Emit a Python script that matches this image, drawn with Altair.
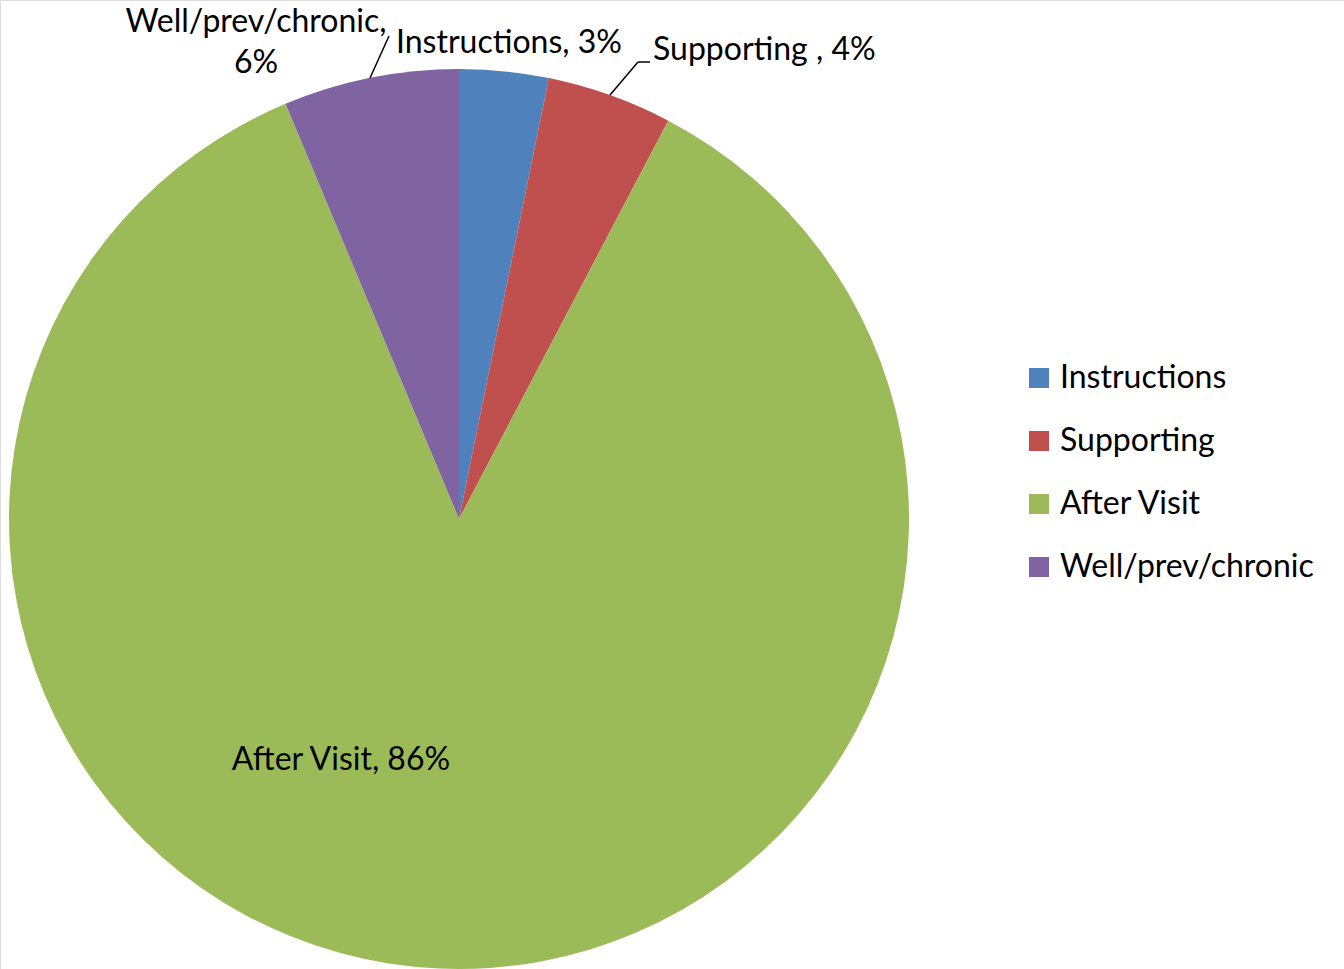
import altair as alt
import pandas as pd

categories = ["Instructions", "Supporting", "After Visit", "Well/prev/chronic"]
values = [3.2, 4.5, 86.0, 6.3]
pct_labels = ["3%", "4%", "86%", "6%"]
colors = ["#4F81BD", "#C0504D", "#9BBB59", "#8064A2"]

df = pd.DataFrame({"category": categories, "value": values, "order": list(range(len(categories)))})

FONT = "Lato"
FS = 32
CX, CY, R = 459, 519, 450

pie = alt.Chart(df).mark_arc(outerRadius=R, stroke=None).encode(
    theta=alt.Theta("value:Q", stack=True),
    order=alt.Order("order:Q"),
    color=alt.Color(
        "category:N",
        scale=alt.Scale(domain=categories, range=colors),
        sort=categories,
        legend=alt.Legend(
            title=None, orient="none", legendX=1023, legendY=362,
            symbolType="square", symbolSize=400, symbolStrokeWidth=0,
            labelFontSize=FS, labelFont=FONT, labelColor="black",
            labelOffset=5, rowPadding=31, padding=0, labelLimit=400,
        ),
    ),
    x=alt.value(CX),
    y=alt.value(CY),
)

def txt(s, x, y, align="left"):
    return alt.Chart(pd.DataFrame({"t": [s]})).mark_text(
        font=FONT, fontSize=FS, color="black", align=align, baseline="middle"
    ).encode(text="t:N", x=alt.value(x), y=alt.value(y))

labels = [
    txt(f"{categories[3]},", 256, 22, "center"),
    txt(pct_labels[3], 256, 63, "center"),
    txt(f"{categories[0]}, {pct_labels[0]}", 396, 43),
    txt(f"{categories[1]} , {pct_labels[1]}", 653, 50),
    txt(f"{categories[2]}, {pct_labels[2]}", 341, 760, "center"),
]

def seg(x1, y1, x2, y2):
    return alt.Chart(pd.DataFrame({"a": [0]})).mark_rule(color="black", strokeWidth=1.5).encode(
        x=alt.value(x1), y=alt.value(y1), x2=alt.value(x2), y2=alt.value(y2)
    )

leaders = [
    seg(370, 78, 389, 36),
    seg(610, 95, 638, 62),
    seg(638, 62, 650, 62),
]

chart = alt.layer(pie, *leaders, *labels).properties(
    width=1344, height=969, padding=0, autosize=alt.AutoSizeParams(type="none")
).configure_view(stroke="transparent").configure(background="white")

chart.save("out.html", embed_options={"renderer": "svg", "actions": False})
